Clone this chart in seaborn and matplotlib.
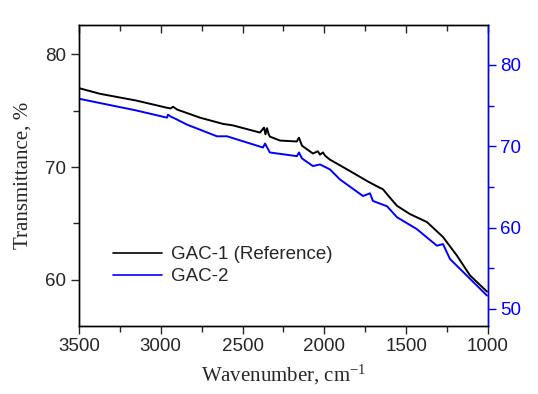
import seaborn as sns
import matplotlib.pyplot as plt
import pandas as pd
from matplotlib.lines import Line2D
from matplotlib.ticker import MultipleLocator

# wavenumber (cm-1) / transmittance (%)
wn_ref = [3500, 3372, 3150, 2962, 2940, 2925, 2900, 2760, 2620, 2560, 2394, 2380,
          2369, 2360, 2351, 2340, 2333, 2271, 2168, 2160, 2155, 2137, 2070, 2040,
          2027, 2009, 1995, 1966, 1844, 1740, 1680, 1642, 1600, 1556, 1477, 1373,
          1275, 1190, 1110, 1006]
t_ref = [77.0, 76.5, 75.9, 75.26, 75.2, 75.35, 75.1, 74.38, 73.83, 73.7, 73.06, 73.3,
         73.5, 72.9, 73.45, 72.9, 72.7, 72.35, 72.27, 72.5, 72.6, 71.9, 71.2, 71.4,
         71.1, 71.3, 71.0, 70.66, 69.65, 68.77, 68.3, 68.03, 67.3, 66.56, 65.83, 65.12,
         63.8, 62.15, 60.39, 58.95]

wn_2 = [3500, 3372, 3150, 2962, 2956, 2935, 2913, 2840, 2657, 2595, 2375, 2363,
        2333, 2168, 2155, 2137, 2070, 2027, 1966, 1905, 1764, 1721, 1703, 1617,
        1556, 1434, 1312, 1275, 1232, 1129, 1006]
t_2 = [75.84, 75.31, 74.4, 73.51, 73.88, 73.6, 73.4, 72.66, 71.22, 71.22, 69.84, 70.33,
       69.23, 68.78, 69.23, 68.5, 67.56, 67.76, 67.15, 65.92, 63.88, 64.21, 63.27, 62.62,
       61.27, 59.8, 57.77, 57.97, 56.13, 54.09, 51.64]

labels = ["GAC-1 (Reference)", "GAC-2"]

df1 = pd.DataFrame({"wn": wn_ref, "T": t_ref})
df2 = pd.DataFrame({"wn": wn_2, "T": t_2})

sns.set_style("ticks")
plt.rcParams["font.family"] = ["Liberation Sans", "DejaVu Sans"]
plt.rcParams["mathtext.default"] = "regular"

fig = plt.figure(figsize=(5.38, 3.94), dpi=100)
ax = fig.add_axes([0.1468, 0.1726, 0.7602, 0.7639])
ax2 = ax.twinx()

sns.lineplot(data=df1, x="wn", y="T", ax=ax, color="black", lw=1.4, sort=False)
sns.lineplot(data=df2, x="wn", y="T", ax=ax2, color="blue", lw=1.4, sort=False)

ax.set_xlim(3500, 1000)
ax.set_ylim(55.9, 82.6)
ax2.set_ylim(47.9, 84.9)

ax.xaxis.set_major_locator(MultipleLocator(500))
ax.xaxis.set_minor_locator(MultipleLocator(250))
ax.yaxis.set_major_locator(MultipleLocator(10))
ax.yaxis.set_minor_locator(MultipleLocator(5))
ax2.yaxis.set_major_locator(MultipleLocator(10))
ax2.yaxis.set_minor_locator(MultipleLocator(5))

for a in (ax, ax2):
    for s in a.spines.values():
        s.set_linewidth(1.0)
        s.set_color("black")
ax2.spines["right"].set_color("blue")

ax.tick_params(axis="both", which="major", length=6, width=1, labelsize=13.5, pad=3)
ax.tick_params(axis="both", which="minor", length=4, width=1)
ax.tick_params(axis="x", which="both", top=True, bottom=True)
ax2.tick_params(axis="y", which="major", length=6, width=1, labelsize=13.5, pad=3,
                colors="blue")
ax2.tick_params(axis="y", which="minor", length=4, width=1, colors="blue")

ax.set_xlabel("Wavenumber, cm$^{-1}$", family="Liberation Serif", fontsize=15, labelpad=5)
ax.set_ylabel("Transmittance, %", family="Liberation Serif", fontsize=15, labelpad=9)
ax2.set_ylabel("")

# top ticks point inward
for t in ax.xaxis.get_major_ticks() + ax.xaxis.get_minor_ticks():
    t.tick2line.set_marker(3)

handles = [Line2D([], [], color="black", lw=1.2), Line2D([], [], color="blue", lw=1.2)]
ax.legend(handles, labels, loc="upper left", bbox_to_anchor=(0.066, 0.29), frameon=False,
          fontsize=13.5, handlelength=2.6, handletextpad=0.45, labelspacing=0.25,
          borderaxespad=0)

fig.savefig("out.png", dpi=100)
